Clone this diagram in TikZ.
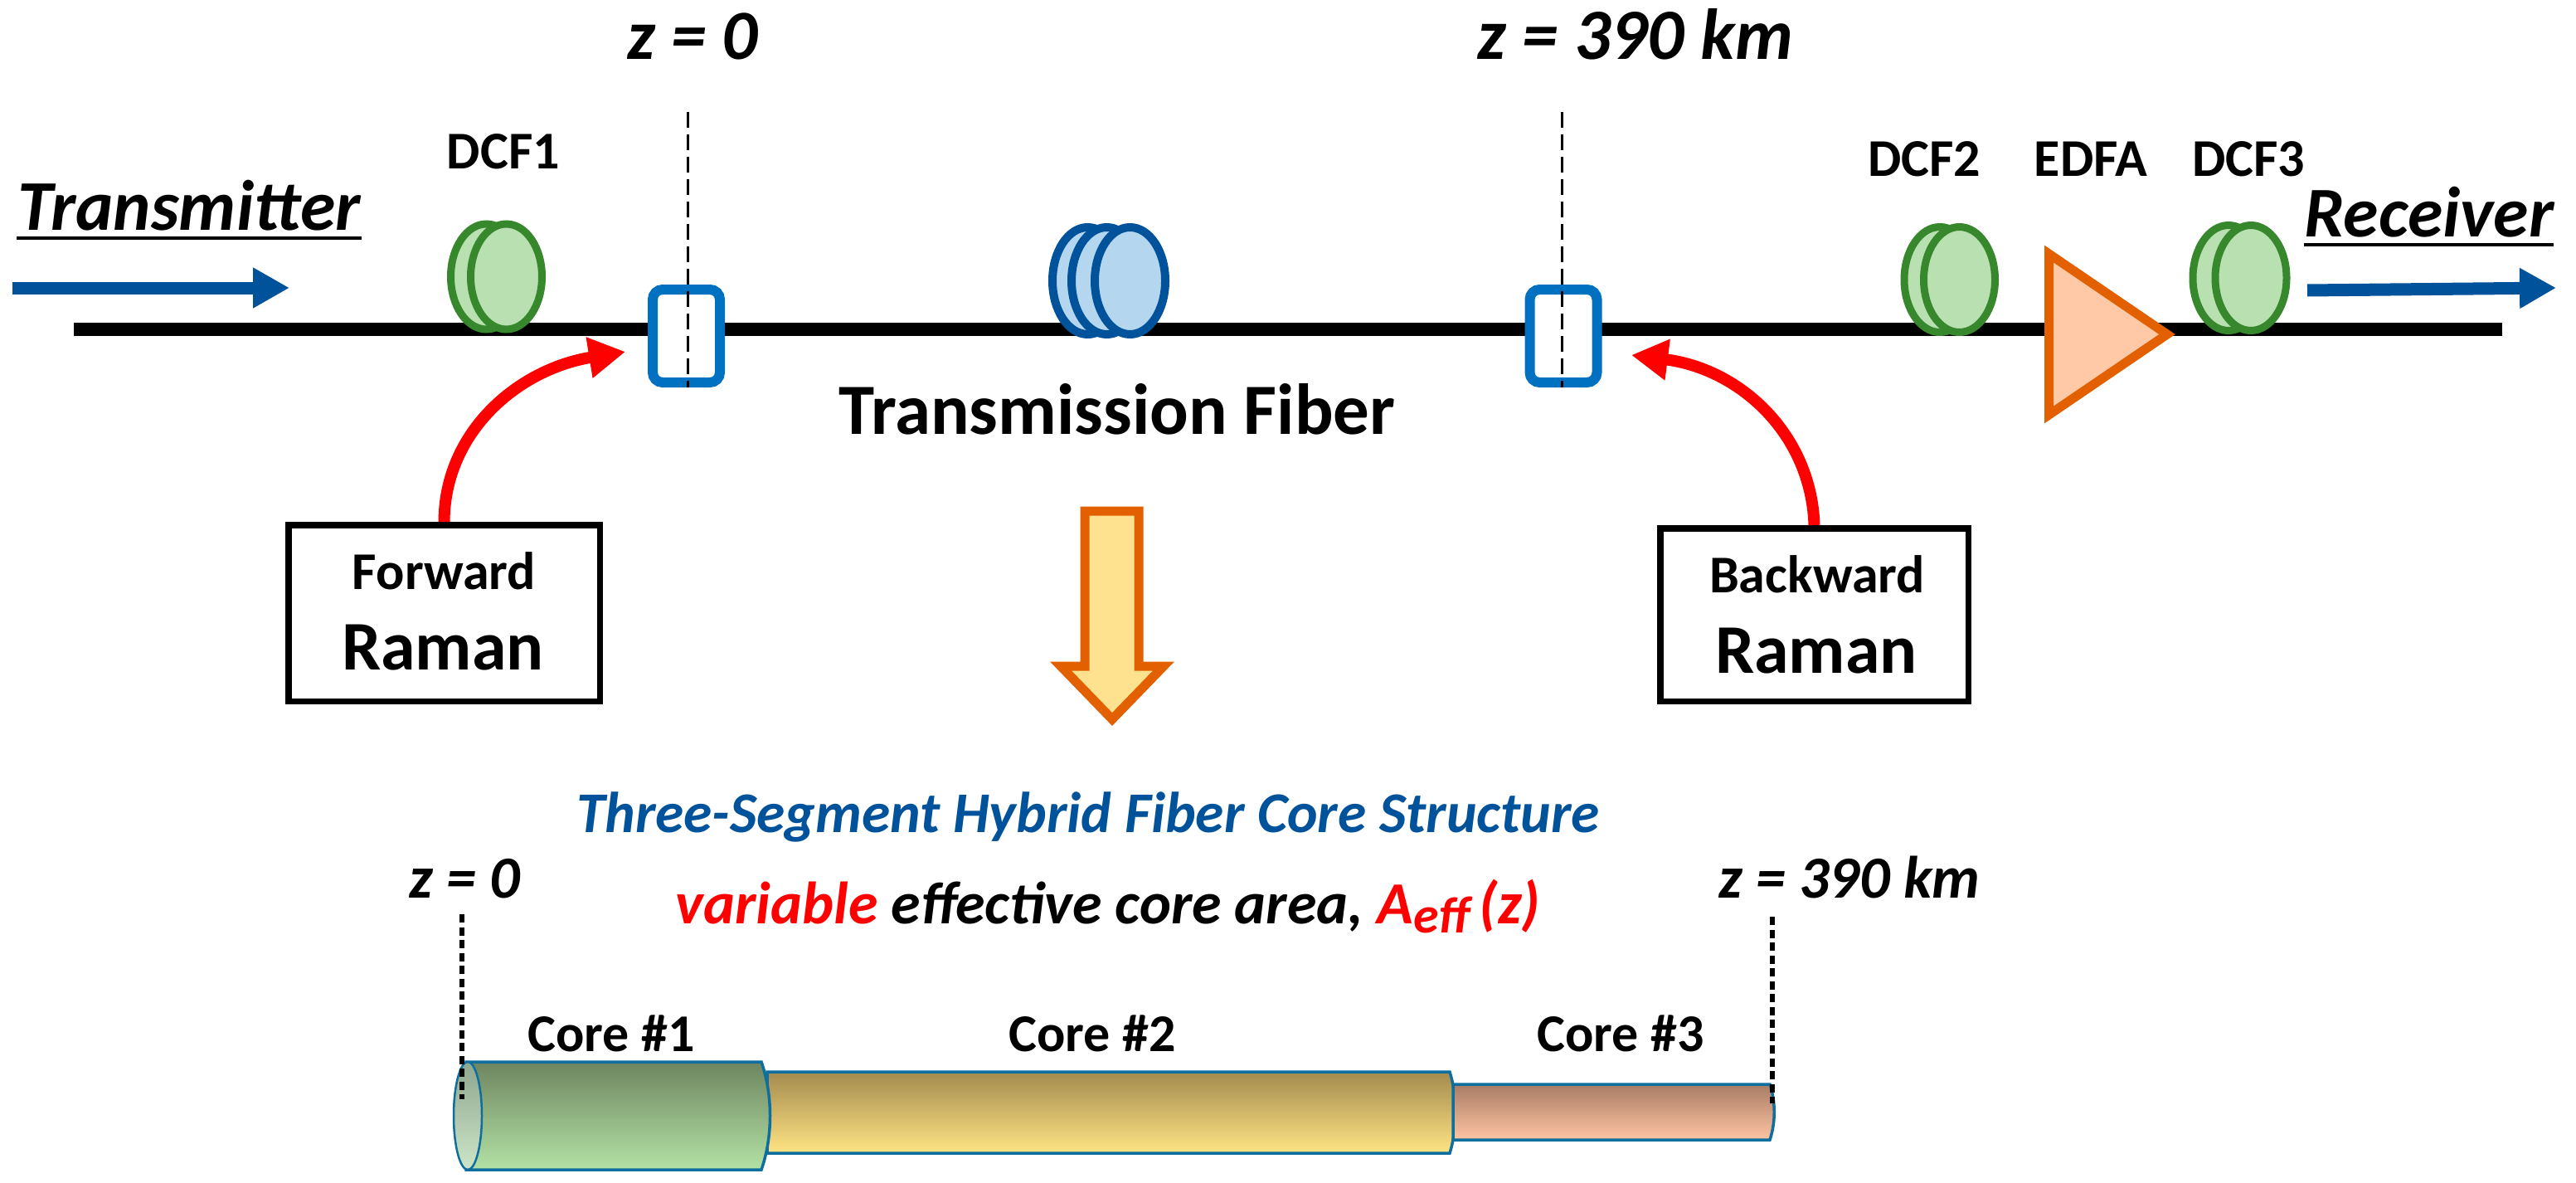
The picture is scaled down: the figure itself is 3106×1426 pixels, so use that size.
\documentclass[tikz,border=0pt]{standalone}
\usepackage{fontspec}
\setmainfont{Carlito}
\usetikzlibrary{arrows.meta,shapes.geometric}
\definecolor{fibblue}{HTML}{00529B}
\definecolor{boxblue}{HTML}{0070C0}
\definecolor{coilgreen}{HTML}{37872D}
\definecolor{coilgreenfill}{HTML}{B9E0B0}
\definecolor{coilblue}{HTML}{00529B}
\definecolor{coilbluefill}{HTML}{B4D7EF}
\definecolor{edfaline}{HTML}{E26000}
\definecolor{edfafill}{HTML}{FFC9A8}
\definecolor{downfill}{HTML}{FFE28F}
\definecolor{corestroke}{HTML}{0E6E9E}
\definecolor{coreAt}{HTML}{6E8560}\definecolor{coreAb}{HTML}{B3E2A5}
\definecolor{coreBt}{HTML}{A38A4E}\definecolor{coreBb}{HTML}{FFE484}
\definecolor{coreCt}{HTML}{A87C66}\definecolor{coreCb}{HTML}{FFC4A2}
\definecolor{coreEt}{HTML}{8FA68F}\definecolor{coreEb}{HTML}{CDE5C8}
\newcommand{\fsz}[1]{\fontsize{#1}{#1}\selectfont}
\tikzset{
  x=1pt,y=-1pt,
  txt/.style={inner sep=0,outer sep=0,anchor=base,text=black},
  coilG/.style={ellipse,draw=coilgreen,fill=coilgreenfill,line width=9pt,minimum width=86pt,minimum height=127pt,inner sep=0},
  coilB/.style={ellipse,draw=coilblue,fill=coilbluefill,line width=10pt,minimum width=85pt,minimum height=129pt,inner sep=0},
  tap/.style={draw=boxblue,fill=white,line width=12pt,rounded corners=12pt,minimum width=81pt,minimum height=112pt,inner sep=0},
  raman/.style={draw=black,fill=white,line width=7.5pt,inner sep=0},
  guide/.style={draw=black,line width=3pt,dash pattern=on 19pt off 8pt},
  dots/.style={draw=black,line width=6pt,dash pattern=on 10pt off 5.5pt},
  pump/.style={draw=red,line width=14pt,-{Triangle[length=44pt,width=47pt]}},
  flow/.style={draw=fibblue,line width=15pt,-{Triangle[length=44pt,width=46pt]}},
  orangeshape/.style={draw=edfaline,line width=11pt,miter limit=10},
  coreline/.style={draw=corestroke,line width=3.5pt},
}
\begin{document}
\begin{tikzpicture}
\useasboundingbox (0,0) rectangle (3106,1426);
% main fibre
\coordinate (fibL) at (89,397);
\coordinate (fibR) at (3017,397);
\draw[black,line width=16pt] (fibL) -- (fibR);
% coils
\node[coilG] (d1b) at (586.5,333.5) {};
\node[coilG] (d1f) at (610.5,333.5) {};
\node[coilB] (t1) at (1311.5,338.5) {};
\node[coilB] (t2) at (1334.5,338.5) {};
\node[coilB] (t3) at (1362.5,338.5) {};
\node[coilG] (d2b) at (2339,337) {};
\node[coilG] (d2f) at (2362.5,337) {};
\node[coilG] (d3b) at (2687,335) {};
\node[coilG] (d3f) at (2714,335) {};
% taps
\node[tap] (tapA) at (827.5,405) {};
\node[tap] (tapB) at (1885,405) {};
\coordinate (gA) at (829.5,135);
\coordinate (gB) at (1883,135);
\draw[guide] (gA) -- (gA |- tapA.south);
\draw[guide] (gB) -- (gB |- tapB.south);
% EDFA
\draw[orangeshape,fill=edfafill] (2470.5,306) -- (2613,403) -- (2470.5,500) -- cycle;
% flow arrows
\coordinate (txA) at (15,347); \coordinate (txB) at (349,347);
\coordinate (rxA) at (2782,350); \coordinate (rxB) at (3082,347);
\draw[flow] (txA) -- (txB);
\draw[flow] (rxA) -- (rxB);
% Raman boxes
\node[raman,minimum width=375.5pt,minimum height=212.5pt] (fwd) at (535.5,739) {};
\node[raman,minimum width=371.5pt,minimum height=208.5pt] (bwd) at (2187.5,741) {};
\coordinate (pF) at (754,424);
\coordinate (pB) at (1967,428);
\draw[pump] (fwd.north) .. controls (536,520) and (625,445) .. (pF);
\draw[pump] (bwd.north) .. controls (2184,525) and (2100,445) .. (pB);
% down arrow
\draw[orangeshape,fill=downfill] (1308,616) -- (1373,616) -- (1373,803) -- (1403,803) -- (1341,867) -- (1279,803) -- (1308,803) -- cycle;
% core segments
\draw[coreline,top color=coreBt,bottom color=coreBb] (925,1292) -- (1748,1292) .. controls (1757,1320) and (1757,1362) .. (1748,1390) -- (925,1390) -- cycle;
\draw[coreline,top color=coreCt,bottom color=coreCb] (1752,1307) -- (2134,1307) .. controls (2141,1328) and (2141,1353) .. (2134,1374) -- (1752,1374) -- cycle;
\draw[coreline,top color=coreAt,bottom color=coreAb] (562,1280) -- (918,1280) .. controls (932,1320) and (932,1370) .. (918,1410) -- (562,1410) -- cycle;
\draw[coreline,line width=2.5pt,top color=coreEt,bottom color=coreEb] (564,1345) ellipse [x radius=17pt,y radius=65pt];
\coordinate (dA) at (556.5,1102); \coordinate (dAe) at (556.5,1325);
\coordinate (dB) at (2137,1105); \coordinate (dBe) at (2137,1330);
\draw[dots] (dA) -- (dAe);
\draw[dots] (dB) -- (dBe);
% texts
\node[txt,font=\fsz{85}\bfseries\itshape] (z0) at (835,72) {z = 0};
\node[txt,font=\fsz{87}\bfseries\itshape] (z390) at (1972,72) {z = 390 km};
\node[txt,font=\fsz{64}\bfseries] (l1) at (607,203) {DCF1};
\node[txt,font=\fsz{64}\bfseries] (l2) at (2320,212) {DCF2};
\node[txt,font=\fsz{64}\bfseries] (l3) at (2521,212) {EDFA};
\node[txt,font=\fsz{64}\bfseries] (l4) at (2711,212) {DCF3};
\node[txt,font=\fsz{86}\bfseries\itshape] (tx) at (228,277) {Transmitter};
\node[txt,font=\fsz{86}\bfseries\itshape] (rx) at (2929,285) {Receiver};
\coordinate (uA) at (20,287); \coordinate (uB) at (436,287);
\coordinate (uC) at (2778,295); \coordinate (uD) at (3079,295);
\draw[black,line width=4pt] (uA) -- (uB);
\draw[black,line width=4pt] (uC) -- (uD);
\node[txt,font=\fsz{87}\bfseries] (tf) at (1347,523) {Transmission Fiber};
\node[txt,font=\fsz{64}\bfseries] (f1) at (535.5,710) {Forward};
\node[txt,font=\fsz{84}\bfseries] (f2) at (534,807) {Raman};
\node[txt,font=\fsz{64}\bfseries] (b1) at (2191,714) {Backward};
\node[txt,font=\fsz{84}\bfseries] (b2) at (2190,811) {Raman};
\node[txt,text=fibblue,font=\fsz{69.5}\bfseries\itshape] (title) at (1312,1003) {Three-Segment Hybrid Fiber Core Structure};
\node[txt,font=\fsz{72}\bfseries\itshape] (sub) at (1336,1113) {\textcolor{red}{variable} effective core area, \textcolor{red}{A\raisebox{-11pt}{\fsz{62}eff}\,(z)}};
\node[txt,font=\fsz{72}\bfseries\itshape] (z0b) at (560,1082) {z = 0};
\node[txt,font=\fsz{72}\bfseries\itshape] (z390b) at (2230,1082) {z = 390 km};
\node[txt,font=\fsz{64}\bfseries] (c1) at (737,1267) {Core \#1};
\node[txt,font=\fsz{64}\bfseries] (c2) at (1317,1267) {Core \#2};
\node[txt,font=\fsz{64}\bfseries] (c3) at (1954,1267) {Core \#3};
\end{tikzpicture}
\end{document}
